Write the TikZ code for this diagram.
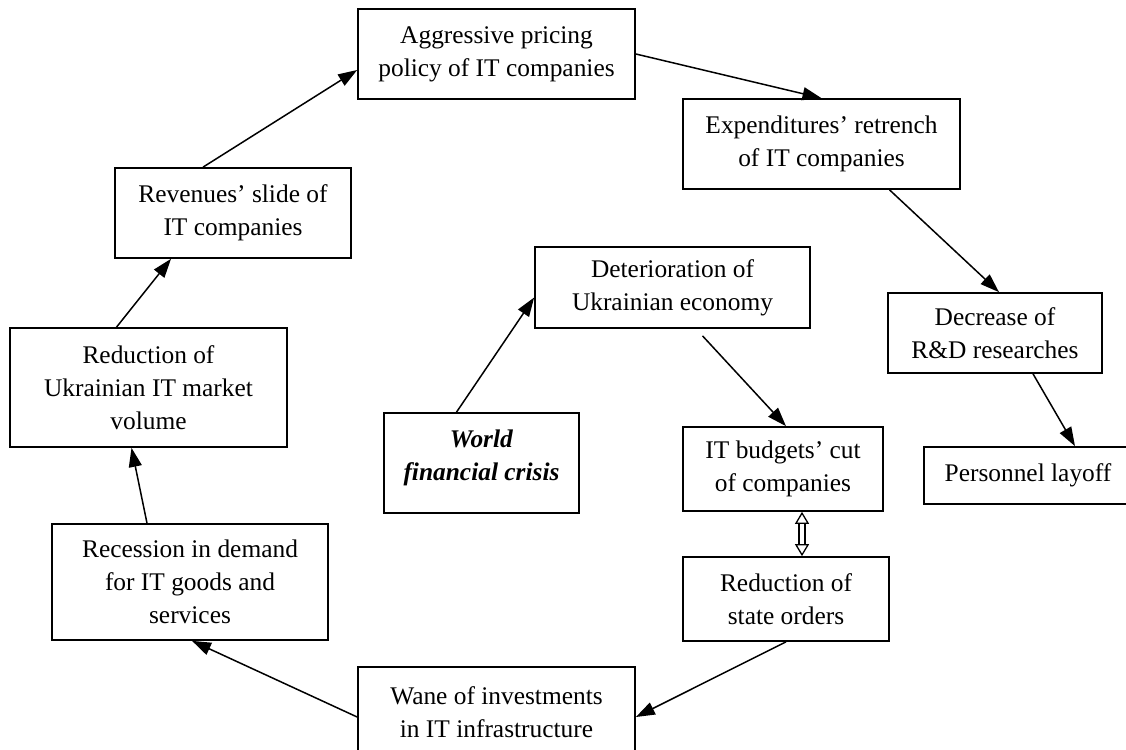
\documentclass[tikz,border=0pt]{standalone}
\usepackage{fontspec}
\setmainfont{Liberation Serif}
\usetikzlibrary{arrows.meta}
\tikzset{
  cause/.style={draw=black, line width=1.7pt, fill=white, align=center,
    inner sep=0pt, font=\fontsize{25.4}{33}\selectfont},
  link/.style={line width=1.5pt, -{Triangle[length=19pt,width=13pt]}},
  mutual/.style={line width=1.3pt, double, double distance=4.5pt,
    {Triangle[open,length=12pt,width=14pt]}-{Triangle[open,length=12pt,width=14pt]}},
}
\begin{document}
\begin{tikzpicture}[x=1pt,y=-1pt]
\path[use as bounding box, fill=white] (0,0) rectangle (1126,749);

\node[cause, minimum width=277pt, minimum height=90pt] (aggr) at (496.5,54)
  {Aggressive pricing\\policy of IT companies};
\node[cause, minimum width=277pt, minimum height=90pt] (expend) at (821.5,144)
  {Expenditures’ retrench\\of IT companies};
\node[cause, minimum width=236pt, minimum height=90pt] (revenue) at (233,213)
  {Revenues’ slide of\\IT companies};
\node[cause, minimum width=275pt, minimum height=81pt] (deterior) at (672.5,287.5)
  {Deterioration of\\Ukrainian economy};
\node[cause, minimum width=214pt, minimum height=80pt] (rnd) at (995,333)
  {Decrease of\\R\&D researches};
\node[cause, minimum width=277pt, minimum height=119pt] (market) at (148.5,387.5)
  {Reduction of\\Ukrainian IT market\\volume};
\node[cause, minimum width=195pt, minimum height=100pt] (crisis) at (481.5,463)
  {\textbf{\textit{World}}\\\textbf{\textit{financial crisis}}\\[-17pt]\mbox{}};
\node[cause, minimum width=200pt, minimum height=84pt] (budget) at (783,469)
  {IT budgets’ cut\\of companies};
\node[cause, minimum width=208pt, minimum height=57pt] (layoff) at (1028,475.5)
  {Personnel layoff};
\node[cause, minimum width=276pt, minimum height=116pt] (recess) at (190,582)
  {Recession in demand\\for IT goods and\\services};
\node[cause, minimum width=206pt, minimum height=84pt] (orders) at (786,599)
  {Reduction of\\state orders};
\node[cause, minimum width=277pt, minimum height=90pt] (wane) at (496.5,712)
  {Wane of investments\\in IT infrastructure};

\draw[link] ([xshift=-30pt]revenue.north) -- ([yshift=-16pt]aggr.west);
\draw[link] (aggr.east) -- (expend.north);
\draw[link] ([xshift=68pt]expend.south) -- ([xshift=4pt]rnd.north);
\draw[link] ([xshift=38pt]rnd.south) -- ([xshift=47pt]layoff.north);
\draw[link] ([xshift=-25pt]crisis.north) -- ([yshift=-10pt]deterior.west);
\draw[link] ([xshift=30pt,yshift=-7pt]deterior.south) -- ([xshift=3pt]budget.north);
\draw[mutual] ([xshift=19pt]budget.south) -- ([xshift=16pt]orders.north);
\draw[link] (orders.south) -- ([yshift=-5pt]wane.east);
\draw[link] ([yshift=-5pt]wane.west) -- ([xshift=2pt]recess.south);
\draw[link] ([xshift=-43pt]recess.north) -- ([xshift=-17pt]market.south);
\draw[link] ([xshift=-32pt]market.north) -- ([xshift=-62pt]revenue.south);
\end{tikzpicture}
\end{document}
